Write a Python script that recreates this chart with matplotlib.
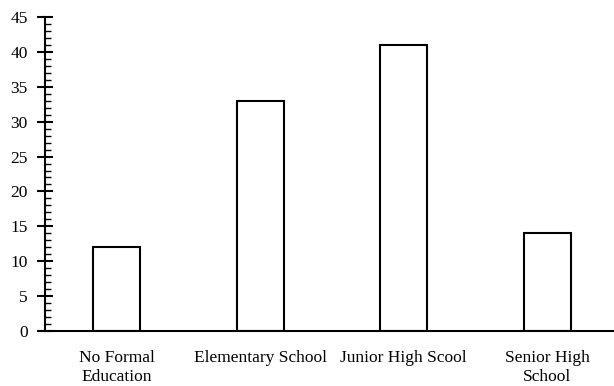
import matplotlib
matplotlib.use("Agg")
import matplotlib.pyplot as plt
from matplotlib.ticker import MultipleLocator

# data
categories = ["No Formal\nEducation", "Elementary School", "Junior High Scool", "Senior High\nSchool"]
counts = [12, 33, 41, 14]

plt.rcParams['font.family'] = ['Liberation Serif', 'DejaVu Serif']

fig = plt.figure(figsize=(6.14, 3.86), dpi=100)
ax = fig.add_axes([45/614, 55/386, 574/614, 314/386])

x = range(len(categories))
ax.bar(x, counts, width=0.33, color='white', edgecolor='black', linewidth=1.5)

ax.set_xlim(-0.5, 3.5)
ax.set_ylim(0, 45)
ax.set_xticks(list(x))
ax.set_xticklabels(categories, fontsize=12.5, linespacing=1.25)
ax.tick_params(axis='x', length=0, pad=13.5)

ax.yaxis.set_major_locator(MultipleLocator(5))
ax.yaxis.set_minor_locator(MultipleLocator(1))
ax.tick_params(axis='y', which='major', direction='inout', length=11, width=1.5, labelsize=12.5, pad=7)
ax.tick_params(axis='y', which='minor', direction='in', length=4, width=1)

ax.spines['top'].set_visible(False)
ax.spines['right'].set_visible(False)
ax.spines['left'].set_linewidth(1.5)
ax.spines['bottom'].set_linewidth(1.5)

fig.savefig("out.png", dpi=100)
